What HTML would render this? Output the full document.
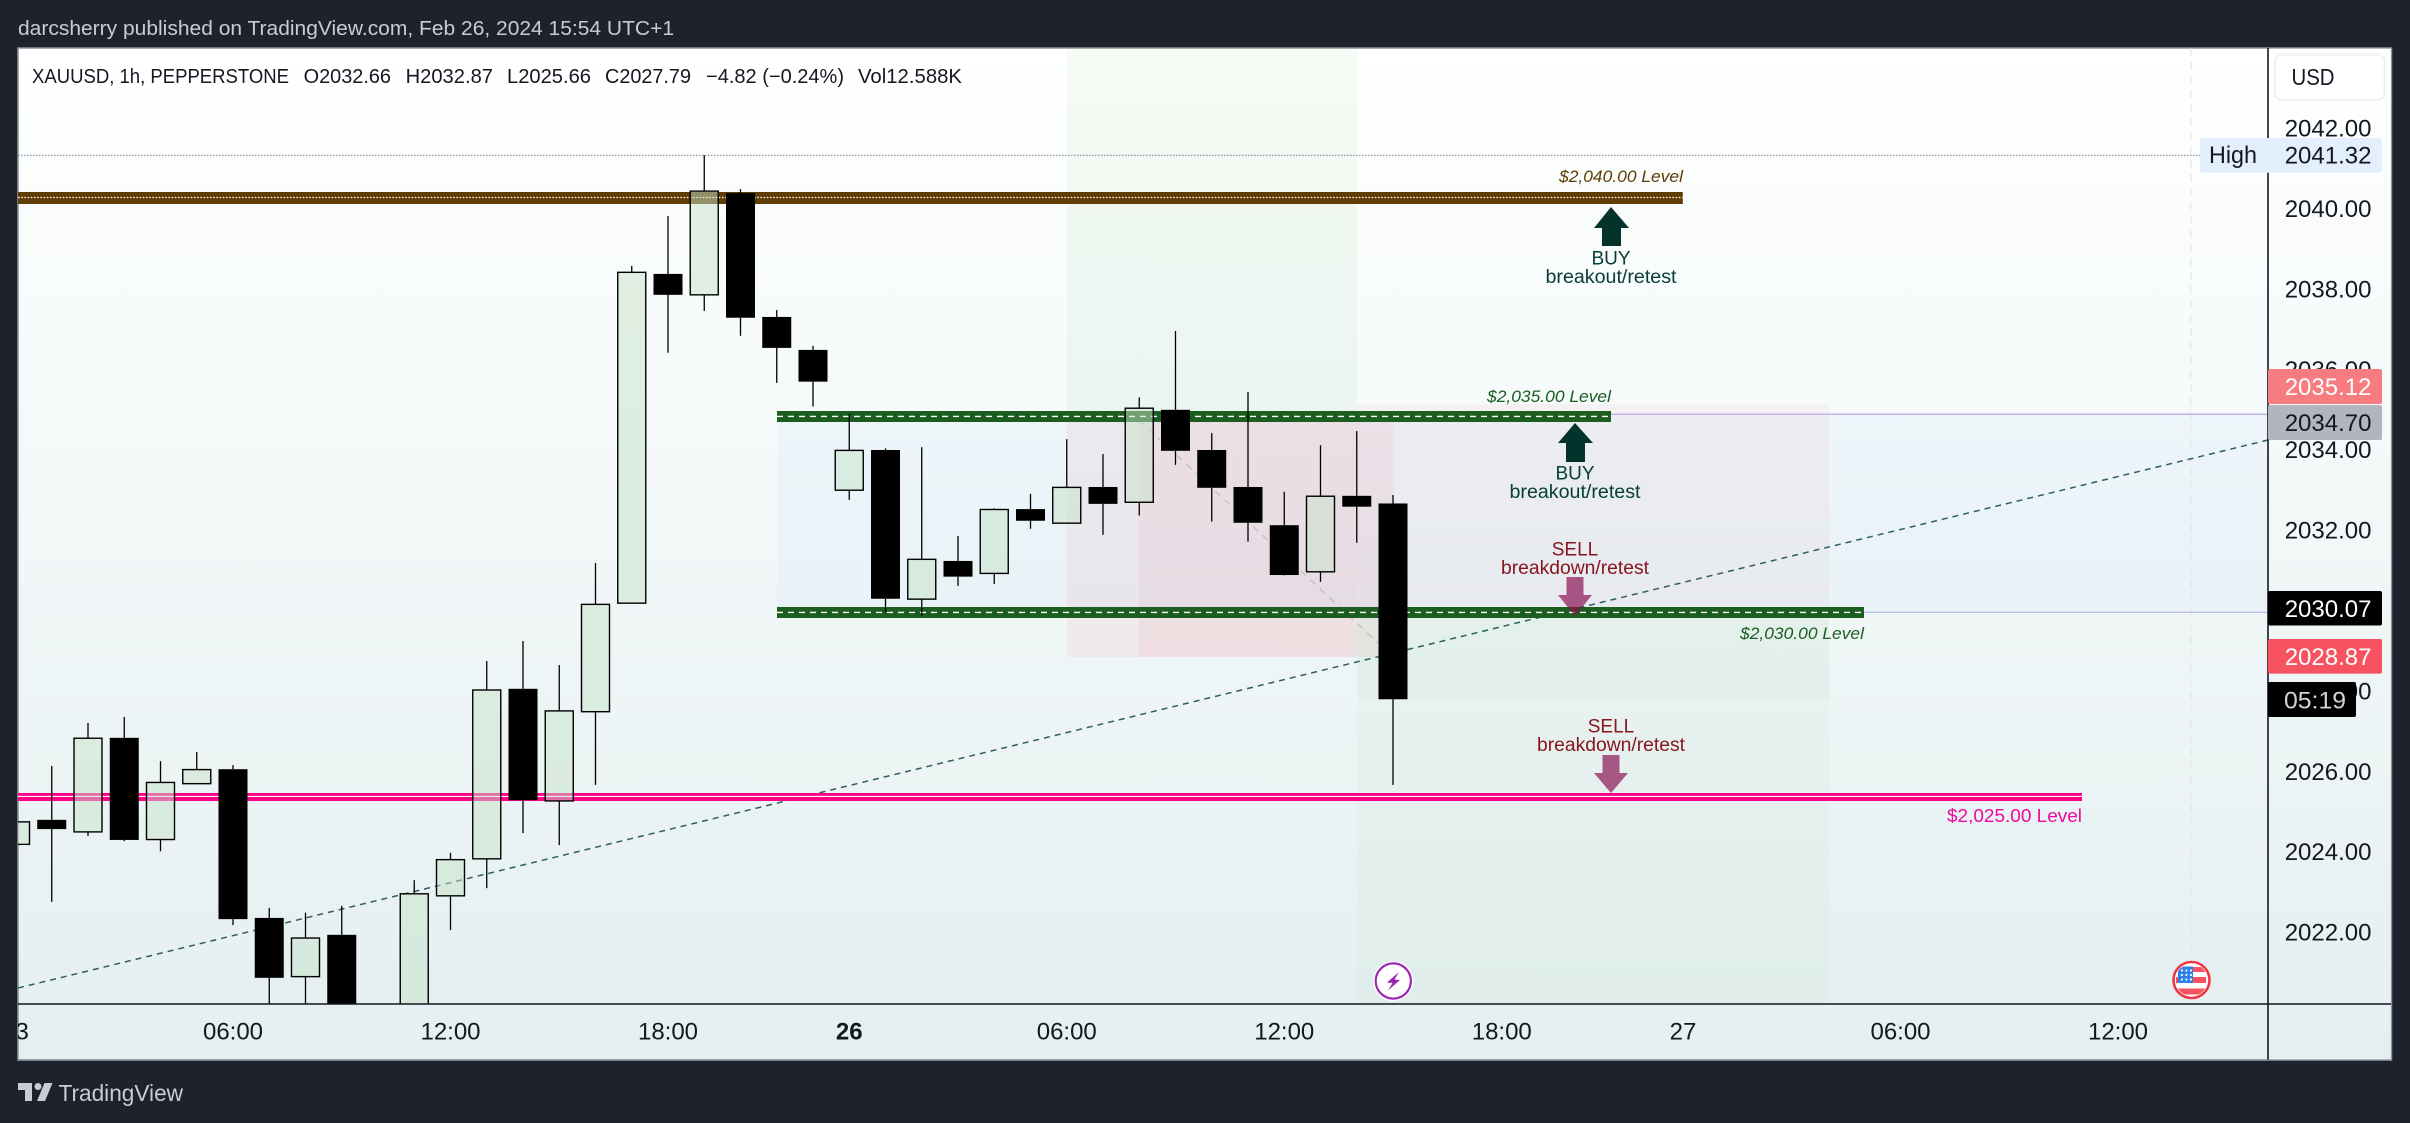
<!DOCTYPE html>
<html lang="en">
<head>
<meta charset="utf-8">
<title>XAUUSD 1h chart</title>
<style>
html,body{margin:0;padding:0;background:#1e222d;width:2410px;height:1123px;overflow:hidden}
svg{display:block;font-family:"Liberation Sans",sans-serif}
</style>
</head>
<body>
<svg id="chart" xmlns="http://www.w3.org/2000/svg" width="2410" height="1123" viewBox="0 0 2410 1123">
<defs>
<linearGradient id="bgGrad" x1="0" y1="0" x2="0" y2="1"><stop offset="0" stop-color="#ffffff"/><stop offset="1" stop-color="#e4eff0"/></linearGradient>
<clipPath id="paneClip"><rect x="18" y="48" width="2250" height="956"/></clipPath>
<clipPath id="timeClip"><rect x="18" y="1004" width="2250" height="56"/></clipPath>
<clipPath id="flagClip"><circle cx="2191.5" cy="980" r="16"/></clipPath>
</defs>

<rect x="0" y="0" width="2410" height="1123" fill="#1e222d"/>
<text x="18" y="35" font-size="20" fill="#c9ccd6" textLength="656" lengthAdjust="spacingAndGlyphs">darcsherry published on TradingView.com, Feb 26, 2024 15:54 UTC+1</text>

<rect x="18" y="48" width="2373.5" height="1012" fill="url(#bgGrad)" stroke="#8d929c" stroke-width="1.5"/>

<g clip-path="url(#paneClip)">
  <rect x="1067" y="48" width="290" height="374" fill="#4caf50" fill-opacity="0.055"/>
  <rect x="1067" y="422" width="290" height="235" fill="#f23645" fill-opacity="0.06"/>
  <rect x="1139" y="422" width="254.5" height="235" fill="#f23645" fill-opacity="0.06"/>
  <rect x="777" y="414" width="1491" height="198.5" fill="#2196f3" fill-opacity="0.035"/>
  <rect x="1357" y="404" width="472" height="208.5" fill="#f23645" fill-opacity="0.04"/>
  <rect x="1357" y="612.5" width="472" height="391.5" fill="#4caf50" fill-opacity="0.035"/>
  <rect x="1357" y="612.5" width="472" height="87" fill="#4caf50" fill-opacity="0.03"/>
  <line x1="2191" y1="48" x2="2191" y2="956" stroke="#dfe2e7" stroke-width="1" stroke-dasharray="8 6"/>
  <line x1="18" y1="155.3" x2="2200" y2="155.3" stroke="#868993" stroke-width="1.2" stroke-dasharray="1.5 1.5"/>
  <line x1="1611" y1="414.3" x2="2268" y2="414.3" stroke="#c3b3e6" stroke-width="1.5"/>
  <line x1="1864" y1="612.4" x2="2268" y2="612.4" stroke="#bcbce6" stroke-width="1.2"/>
  <line x1="1139" y1="420" x2="1378" y2="643" stroke="#9aa0a8" stroke-width="1.2" stroke-dasharray="7 6" stroke-opacity="0.55"/>
  <line x1="18" y1="988" x2="2268" y2="440" stroke="#2f5f5c" stroke-width="1.5" stroke-dasharray="6 5"/>

  <rect x="18" y="192" width="1664.8" height="12" fill="#5f3d05"/>
  <line x1="18" y1="197.5" x2="1682.8" y2="197.5" stroke="#ffffff" stroke-width="1.3" stroke-dasharray="1.6 1.6"/>
  <rect x="777" y="411" width="834" height="11" fill="#1b5e20"/>
  <line x1="777" y1="416.4" x2="1611" y2="416.4" stroke="#ffffff" stroke-width="1.4" stroke-dasharray="6 5"/>
  <rect x="777" y="607" width="1087" height="11" fill="#1b5e20"/>
  <line x1="777" y1="612.4" x2="1864" y2="612.4" stroke="#ffffff" stroke-width="1.4" stroke-dasharray="6 5"/>
  <rect x="18" y="793" width="2064" height="8" fill="#ff0088"/>
  <line x1="18" y1="796.4" x2="2082" y2="796.4" stroke="#ffffff" stroke-width="1.1"/>
</g>

<g id="candles" clip-path="url(#paneClip)"></g>

<g>
  <text x="1559" y="182" font-size="17" font-style="italic" fill="#5f3d05" textLength="124" lengthAdjust="spacingAndGlyphs">$2,040.00 Level</text>
  <text x="1487" y="402" font-size="17" font-style="italic" fill="#1b5e20" textLength="124" lengthAdjust="spacingAndGlyphs">$2,035.00 Level</text>
  <text x="1740" y="639" font-size="17" font-style="italic" fill="#1b5e20" textLength="124" lengthAdjust="spacingAndGlyphs">$2,030.00 Level</text>
  <text x="1947" y="822" font-size="18" fill="#f0099c" textLength="135" lengthAdjust="spacingAndGlyphs">$2,025.00 Level</text>
</g>

<g>
  <polygon points="1611,207 1629,228 1621,228 1621,246 1602,246 1602,228 1594,228" fill="#04332b"/>
  <text x="1611" y="264.5" font-size="19" fill="#064035" text-anchor="middle">BUY</text>
  <text x="1611" y="283" font-size="19" fill="#064035" text-anchor="middle" textLength="131" lengthAdjust="spacingAndGlyphs">breakout/retest</text>
  <polygon points="1575,423 1593,443 1585,443 1585,462 1566,462 1566,443 1558,443" fill="#04332b"/>
  <text x="1575" y="479.5" font-size="19" fill="#064035" text-anchor="middle">BUY</text>
  <text x="1575" y="498" font-size="19" fill="#064035" text-anchor="middle" textLength="131" lengthAdjust="spacingAndGlyphs">breakout/retest</text>
  <text x="1575" y="555.5" font-size="19" fill="#88141f" text-anchor="middle">SELL</text>
  <text x="1575" y="574" font-size="19" fill="#88141f" text-anchor="middle" textLength="148" lengthAdjust="spacingAndGlyphs">breakdown/retest</text>
  <polygon points="1566.5,577 1583.5,577 1583.5,595 1592,595 1575,616 1558,595 1566.5,595" fill="#880e4f" fill-opacity="0.68"/>
  <text x="1611" y="732.5" font-size="19" fill="#88141f" text-anchor="middle">SELL</text>
  <text x="1611" y="751" font-size="19" fill="#88141f" text-anchor="middle" textLength="148" lengthAdjust="spacingAndGlyphs">breakdown/retest</text>
  <polygon points="1602.5,755 1619.5,755 1619.5,773 1628,773 1611,793 1594,773 1602.5,773" fill="#880e4f" fill-opacity="0.68"/>
</g>

<g font-size="20" fill="#131722">
  <text x="32" y="83" textLength="257" lengthAdjust="spacingAndGlyphs">XAUUSD, 1h, PEPPERSTONE</text>
  <text x="303.6" y="83" textLength="87.4" lengthAdjust="spacingAndGlyphs">O2032.66</text>
  <text x="405.6" y="83" textLength="87.4" lengthAdjust="spacingAndGlyphs">H2032.87</text>
  <text x="507" y="83" textLength="84" lengthAdjust="spacingAndGlyphs">L2025.66</text>
  <text x="605" y="83" textLength="86" lengthAdjust="spacingAndGlyphs">C2027.79</text>
  <text x="706" y="83" textLength="138" lengthAdjust="spacingAndGlyphs">−4.82 (−0.24%)</text>
  <text x="858" y="83" textLength="104" lengthAdjust="spacingAndGlyphs">Vol12.588K</text>
</g>

<g>
  <g>
    <circle cx="1393.3" cy="981" r="20" fill="#ffffff"/>
    <circle cx="1393.3" cy="981" r="17.6" fill="#ffffff" stroke="#9c27b0" stroke-width="2.2"/>
    <polygon points="1399,972 1387,982.5 1392.5,983 1388,990.5 1400,980 1394.5,979.5" fill="#9c27b0"/>
  </g>
  <g>
    <circle cx="2191.5" cy="980" r="18" fill="#ffffff" stroke="#f23645" stroke-width="2.6"/>
    <g clip-path="url(#flagClip)">
      <rect x="2176" y="967" width="30" height="5" fill="#f7525f"/>
      <rect x="2176" y="977" width="30" height="6" fill="#f7525f"/>
      <rect x="2176" y="988.5" width="30" height="6" fill="#f7525f"/>
      <rect x="2178" y="966.5" width="15" height="16.5" fill="#2f80e4"/>
      <path d="M2181 970.5h1.8M2185.5 970.5h1.8M2190 970.5h1.8M2181 975h1.8M2185.5 975h1.8M2190 975h1.8M2181 979.5h1.8M2185.5 979.5h1.8M2190 979.5h1.8" stroke="#ffffff" stroke-width="2"/>
    </g>
  </g>
</g>

<rect x="2268.5" y="48.8" width="122.3" height="1010.5" fill="url(#bgGrad)"/>
<line x1="2268" y1="48" x2="2268" y2="1060" stroke="#131722" stroke-width="1.6"/>
<line x1="18" y1="1004" x2="2391" y2="1004" stroke="#131722" stroke-width="1.6"/>
<line x1="18" y1="1060" x2="2268" y2="1060" stroke="#8d929c" stroke-width="1.5"/>

<g id="priceTicks"></g>
<g id="timeTicks" clip-path="url(#timeClip)"></g>

<g>
  <rect x="2275" y="54.5" width="109.5" height="45.5" rx="7" fill="#ffffff" stroke="#eef0f6" stroke-width="2"/>
  <text x="2291.5" y="85" font-size="23" fill="#131722" textLength="43" lengthAdjust="spacingAndGlyphs">USD</text>
</g>

<g font-size="24">
  <rect x="2200" y="138" width="182" height="34.7" rx="3" fill="#e3effd"/>
  <text x="2209" y="163" fill="#131722" textLength="48" lengthAdjust="spacingAndGlyphs">High</text>
  <text x="2284.7" y="163.6" fill="#131722">2041.32</text>
  <rect x="2268" y="369" width="114" height="35" rx="2" fill="#f77c80"/>
  <text x="2284.7" y="395.2" fill="#ffffff">2035.12</text>
  <rect x="2268" y="405" width="114" height="35" rx="2" fill="#b2b5be"/>
  <text x="2284.7" y="431" fill="#131722">2034.70</text>
  <rect x="2268" y="591" width="114" height="34.5" rx="2" fill="#000000"/>
  <text x="2284.7" y="617" fill="#ffffff">2030.07</text>
  <rect x="2268" y="639" width="114" height="34.6" rx="2" fill="#f7525f"/>
  <text x="2284.7" y="665" fill="#ffffff">2028.87</text>
  <rect x="2268" y="682" width="88" height="35" rx="2" fill="#000000"/>
  <text x="2284" y="708.5" fill="#d1d4dc" textLength="62" lengthAdjust="spacingAndGlyphs">05:19</text>
</g>

<g>
  <path d="M18 1083H32V1101H25V1090H18Z M52.5 1083H44.5L37 1101H45Z" fill="#c8ccd6"/>
  <circle cx="38" cy="1086.5" r="3.5" fill="#c8ccd6"/>
  <text x="58.5" y="1101" font-size="23" fill="#c8ccd6" textLength="124.5" lengthAdjust="spacingAndGlyphs">TradingView</text>
</g>
</svg>

<script>
const opens  = [2024.18,2024.79,2024.49,2026.83,2024.30,2025.69,2026.05,2022.35,2020.89,2021.93,2019.40,2019.90,2022.90,2023.82,2028.05,2025.26,2027.48,2030.18,2038.37,2037.85,2040.38,2037.30,2036.48,2032.99,2033.99,2030.28,2031.23,2030.92,2032.52,2032.17,2033.07,2032.69,2034.99,2033.99,2033.07,2032.12,2030.96,2032.85,2032.66];
const highs  = [2024.74,2026.13,2027.20,2027.35,2026.25,2026.48,2026.15,2022.60,2022.48,2022.65,2020.10,2023.29,2023.97,2028.74,2029.24,2028.64,2031.18,2038.57,2039.81,2041.32,2040.48,2037.47,2036.58,2034.89,2034.03,2034.06,2031.85,2032.54,2032.90,2034.26,2033.89,2035.30,2036.95,2034.41,2035.43,2032.95,2034.11,2034.46,2032.87];
const lows   = [2024.18,2022.75,2024.39,2024.26,2024.01,2025.69,2022.17,2020.00,2019.90,2019.80,2019.20,2019.70,2022.05,2023.09,2024.46,2024.16,2025.66,2030.18,2036.41,2037.45,2036.83,2035.66,2035.07,2032.75,2029.96,2029.87,2030.61,2030.66,2032.03,2032.17,2031.88,2032.36,2033.62,2032.21,2031.71,2030.87,2030.71,2031.68,2025.66];
const closes = [2024.74,2024.56,2026.82,2024.29,2025.72,2026.04,2022.32,2020.86,2021.85,2020.10,2020.00,2022.95,2023.80,2028.02,2025.28,2027.50,2030.15,2038.41,2037.85,2040.43,2037.28,2036.53,2035.69,2033.98,2030.29,2031.27,2030.84,2032.51,2032.23,2033.06,2032.65,2035.03,2033.97,2033.05,2032.18,2030.88,2032.84,2032.58,2027.79];
const priceTickValues = [2042,2040,2038,2036,2034,2032,2030,2028,2026,2024,2022];
const timeTickBars = [0,6,12,18,23,29,35,41,46,52,58];
const timeTickLabels = ["23","06:00","12:00","18:00","26","06:00","12:00","18:00","27","06:00","12:00"];

const SVG_NS = "http://www.w3.org/2000/svg";
function xOf(barIndex){ return 15.5 + barIndex * 36.25; }
function yOf(price){ return 128 + (2042 - price) * 40.2; }
function make(tag, attrs, parent){
  const el = document.createElementNS(SVG_NS, tag);
  for (const k in attrs) el.setAttribute(k, attrs[k]);
  parent.appendChild(el);
  return el;
}

const candleLayer = document.getElementById("candles");
opens.forEach(function(open, i){
  const close = closes[i];
  const up = close > open;
  const cx = xOf(i);
  const top = yOf(Math.max(open, close));
  const bottom = yOf(Math.min(open, close));
  const upper = make("line", {x1:cx, x2:cx, y1:yOf(highs[i]), y2:top, stroke:"#000000", "stroke-width":1.3}, candleLayer);
  
  
  const lower = make("line", {x1:cx, x2:cx, y1:bottom, y2:yOf(lows[i]), stroke:"#000000", "stroke-width":1.3}, candleLayer);
  
  
  const body = up
    ? make("rect", {x:cx-14, y:top, width:28, height:bottom-top, fill:"#c7e1c9", "fill-opacity":0.5, stroke:"#000000", "stroke-width":1.4}, candleLayer)
    : make("rect", {x:cx-14.5, y:top, width:29, height:bottom-top, fill:"#000000"}, candleLayer);
  
  
});

const priceLayer = document.getElementById("priceTicks");
priceTickValues.forEach(function(value){
  const t = make("text", {x:2284.7, y:yOf(value)+8.6, "font-size":24, fill:"#131722"}, priceLayer);
  t.textContent = value.toFixed(2);
  
  
});

const timeLayer = document.getElementById("timeTicks");
timeTickBars.forEach(function(bar, i){
  const label = timeTickLabels[i];
  const t = make("text", {x:xOf(bar), y:1039.5, "font-size":24, fill:"#131722", "text-anchor":"middle"}, timeLayer);
  if (label === "26") t.setAttribute("font-weight", "bold");
  t.textContent = label;
  
  
});
</script>
</body>
</html>
